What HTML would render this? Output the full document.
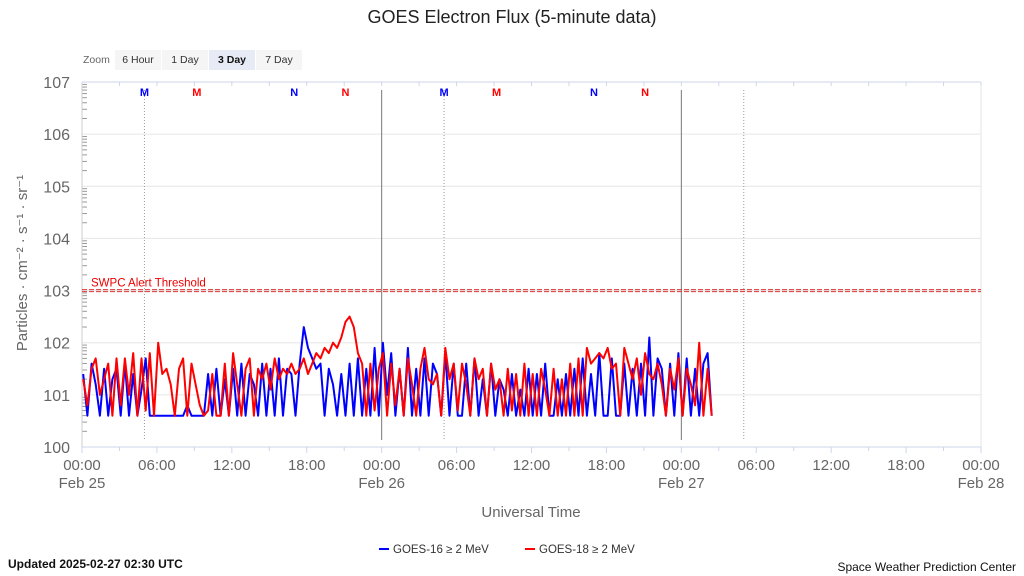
<!DOCTYPE html>
<html><head><meta charset="utf-8"><style>
html,body{margin:0;padding:0;background:#fff;width:1024px;height:576px;overflow:hidden}
svg text{font-family:"Liberation Sans Narrow","Liberation Sans",sans-serif}
</style></head><body>
<svg id="chart" width="1024" height="576" xmlns="http://www.w3.org/2000/svg">
<text x="512" y="23" text-anchor="middle" font-size="18" fill="#222" style="font-family:'Liberation Sans',sans-serif">GOES Electron Flux (5-minute data)</text>
<g>
<text x="83" y="63" font-size="10.5" fill="#666">Zoom</text>
<rect x="115" y="50" width="46" height="20" fill="#f5f5f5"/>
<text x="138" y="63" font-size="10.5" fill="#333" text-anchor="middle">6 Hour</text>
<rect x="162" y="50" width="46" height="20" fill="#f5f5f5"/>
<text x="185" y="63" font-size="10.5" fill="#333" text-anchor="middle">1 Day</text>
<rect x="209" y="50" width="46" height="20" fill="#e6ebf5"/>
<text x="232" y="63" font-size="10.5" fill="#111" font-weight="bold" text-anchor="middle">3 Day</text>
<rect x="256" y="50" width="46" height="20" fill="#f5f5f5"/>
<text x="279" y="63" font-size="10.5" fill="#333" text-anchor="middle">7 Day</text>
</g>
<g id="grid"></g>
<g id="marks"></g>
<text transform="translate(27,263) rotate(-90)" text-anchor="middle" font-size="15" fill="#666" style="font-family:'Liberation Sans',sans-serif">Particles · cm⁻² · s⁻¹ · sr⁻¹</text>
<text x="531" y="517" text-anchor="middle" font-size="15" fill="#666">Universal Time</text>
<g>
<g><line x1="379" y1="549" x2="389" y2="549" stroke="#0000ff" stroke-width="2"/><text x="393" y="553" font-size="11.5" fill="#333">GOES-16 ≥ 2 MeV</text></g>
<g><line x1="525" y1="549" x2="535" y2="549" stroke="#ff0000" stroke-width="2"/><text x="539" y="553" font-size="11.5" fill="#333">GOES-18 ≥ 2 MeV</text></g>
</g>
<text x="8" y="568" font-size="12" font-weight="bold" fill="#111">Updated 2025-02-27 02:30 UTC</text>
<text x="1016" y="571" font-size="12" fill="#111" text-anchor="end">Space Weather Prediction Center</text>
</svg>
<script>
const yTicks=[0,1,2,3,4,5,6,7];
const yTickLabels=["100","101","102","103","104","105","106","107"];
const xTickHours=[0,6,12,18,24,30,36,42,48,54,60,66,72];
const xTickLabels=["00:00","06:00","12:00","18:00","00:00","06:00","12:00","18:00","00:00","06:00","12:00","18:00","00:00"];
const dayLabels=["Feb 25","Feb 26","Feb 27","Feb 28"];
const dayHours=[0,24,48,72];
const thresholdLog=3;
const stepMinutes=20;
const goes16=[1.4,0.6,1.6,1.2,0.6,1.5,0.6,1.3,1.5,0.6,1.6,0.6,1.4,0.6,1.1,1.7,0.6,0.6,
0.6,0.6,0.6,0.6,0.6,0.6,0.6,0.8,0.6,0.6,0.6,0.6,1.4,0.6,1.5,0.6,1.3,0.6,
1.5,0.6,1.6,0.6,1.4,1.2,0.6,1.6,0.6,1.5,0.6,1.7,0.6,1.5,1.4,0.6,1.6,2.3,
1.9,1.7,1.5,1.6,0.6,1.5,1.2,0.6,1.4,0.6,1.6,0.6,1.7,0.6,1.5,0.6,1.9,0.6,
2.0,1.0,1.8,0.6,1.5,0.6,1.9,0.6,1.5,0.6,1.7,0.6,1.6,1.4,0.6,1.8,0.6,1.6,
0.6,0.6,1.6,0.6,1.7,0.6,1.3,0.6,1.6,0.6,1.3,1.1,0.6,1.4,0.6,1.1,0.6,1.5,
0.6,1.4,0.6,1.6,0.6,0.6,1.3,0.6,1.4,0.6,1.5,0.6,1.7,0.6,1.4,0.6,1.8,0.6,
0.6,1.7,0.6,0.6,1.6,0.6,1.5,0.6,1.6,0.6,2.1,0.6,1.7,1.5,0.6,1.6,0.6,1.8,
0.6,1.7,0.6,1.5,0.6,1.6,1.8,0.6];
const goes18=[1.3,0.8,1.5,1.7,1.0,1.3,1.6,0.6,1.7,0.8,1.7,1.0,1.8,0.6,1.7,0.7,1.8,0.6,
2.0,1.4,1.5,1.2,0.6,1.5,1.7,0.6,1.6,1.2,0.8,0.6,0.7,1.4,0.6,0.6,1.6,0.6,
1.8,1.2,0.6,1.5,1.7,0.6,1.5,1.3,1.6,1.1,1.7,1.3,1.5,1.4,1.6,1.4,1.5,1.7,
1.4,1.6,1.8,1.7,1.9,1.8,2.0,1.9,2.1,2.4,2.5,2.3,1.8,1.6,0.6,1.6,0.7,1.5,
1.8,0.6,1.6,0.8,1.5,0.6,1.7,1.2,0.6,1.5,1.9,1.3,1.2,1.4,0.6,1.9,1.3,1.6,
0.7,1.6,1.2,0.6,1.7,1.3,1.5,0.6,1.6,1.1,1.3,0.6,1.5,0.7,1.4,0.6,1.6,0.6,
1.4,0.6,1.5,1.1,0.6,1.5,0.6,1.3,0.6,1.6,0.6,1.7,0.6,1.9,1.6,1.7,1.8,1.7,
1.9,1.5,1.6,0.6,1.9,1.6,1.3,1.7,1.0,1.8,1.4,1.3,1.6,1.2,0.6,1.5,1.1,1.7,
0.6,1.5,1.2,0.8,2.0,0.6,1.5,0.6];
const markerHours=[5,9.2,17,21.1,29,33.2,41,45.1];
const markerLetters=["M","M","N","N","M","M","N","N"];
const markerSat=[16,18,16,18,16,18,16,18];

const L=82,R=981,T=82,B=447;
const xs=h=>L+(R-L)*h/72;
const ys=v=>B-(B-T)*v/7;
const NS="http://www.w3.org/2000/svg";
function mk(parent,tag,attrs){const e=document.createElementNS(NS,tag);for(const k in attrs)e.setAttribute(k,attrs[k]);parent.appendChild(e);return e;}
const grid=document.getElementById('grid'),marks=document.getElementById('marks');
mk(grid,'rect',{x:L,y:T,width:R-L,height:B-T,fill:'#fff'});
yTicks.forEach((v,i)=>{
  const g=mk(grid,'line',{x1:L,x2:R,y1:ys(v),y2:ys(v),stroke:'#e6e6e6','stroke-width':1});
  
  
  const t=mk(grid,'text',{x:70,y:ys(v)+6,'font-size':16,fill:'#666','text-anchor':'end'});
  t.textContent=yTickLabels[i];
  
  
  if(v<7){for(let k=2;k<10;k++){const yy=ys(v+Math.log10(k));mk(grid,'line',{x1:L,x2:L+5,y1:yy,y2:yy,stroke:'#999','stroke-width':1});}}
});
mk(grid,'line',{x1:L,x2:L,y1:T,y2:B,stroke:'#ccc'});
mk(grid,'line',{x1:R,x2:R,y1:T,y2:B,stroke:'#e6e6e6'});
mk(grid,'line',{x1:L,x2:R,y1:T,y2:T,stroke:'#ccd6eb'});
mk(grid,'line',{x1:L,x2:R,y1:B,y2:B,stroke:'#ccd6eb'});
for(let h=0;h<=72;h+=3){mk(grid,'line',{x1:xs(h),x2:xs(h),y1:B,y2:B+(h%6==0?6:4),stroke:'#ccd6eb'});mk(grid,'line',{x1:xs(h),x2:xs(h),y1:T,y2:T+4,stroke:'#ccd6eb'});}
xTickHours.forEach((h,i)=>{
  const t=mk(grid,'text',{x:xs(h),y:470,'font-size':15,fill:'#666','text-anchor':'middle'});
  t.textContent=xTickLabels[i];
  
  
});
dayHours.forEach((h,i)=>{
  const t=mk(grid,'text',{x:xs(h),y:488,'font-size':15,fill:'#666','text-anchor':'middle'});
  t.textContent=dayLabels[i];
  
  
});
[24,48].forEach(h=>{const l=mk(grid,'line',{x1:xs(h),x2:xs(h),y1:90,y2:440,stroke:'#777','stroke-width':1});
  
  });
[5,29,53].forEach(h=>{const l=mk(grid,'line',{x1:xs(h),x2:xs(h),y1:90,y2:440,stroke:'#999','stroke-width':1,'stroke-dasharray':'1,2'});
  
  });
markerHours.forEach((h,i)=>{
  const t=mk(grid,'text',{x:xs(h),y:96,'font-size':11,'font-weight':'bold',fill:markerSat[i]==16?'#0000ff':'#ff0000','text-anchor':'middle'});
  t.textContent=markerLetters[i];
  
  
});
const th=ys(thresholdLog);
mk(marks,'line',{x1:L,x2:R,y1:th-1,y2:th-1,stroke:'#d33','stroke-width':1,'stroke-dasharray':'5,2'});
const thl=mk(marks,'line',{x1:L,x2:R,y1:th+1,y2:th+1,stroke:'#d33','stroke-width':1,'stroke-dasharray':'5,2'});


const tt=mk(marks,'text',{x:91,y:th-4,'font-size':11.5,fill:'#e00'});
tt.textContent='SWPC Alert Threshold';


function series(arr,color,name){
  const pts=arr.map((v,i)=>xs(i*stepMinutes/60+0.1).toFixed(1)+','+ys(v).toFixed(1)).join(' ');
  const p=mk(marks,'polyline',{points:pts,fill:'none',stroke:color,'stroke-width':2,'stroke-linejoin':'round'});
  
  
}
series(goes16,'#0000ff','goes16-series');
series(goes18,'#ff0000','goes18-series');
</script>
</body></html>
